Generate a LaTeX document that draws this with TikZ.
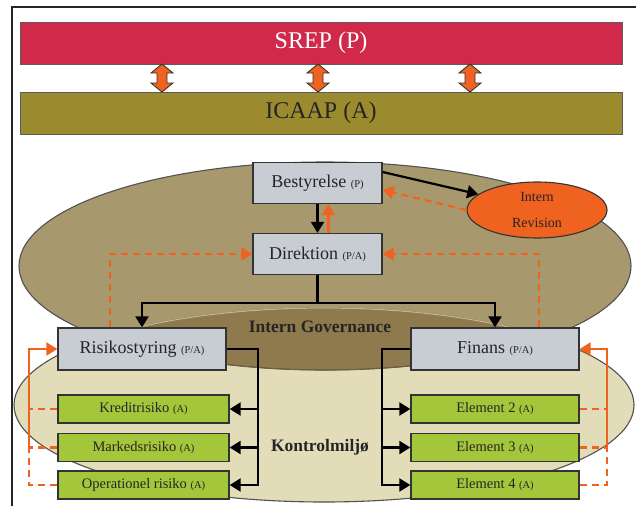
\documentclass[tikz,border=0pt]{standalone}
\usepackage{fontspec}
\setmainfont{Liberation Serif}
\usetikzlibrary{arrows.meta,shapes.geometric}
\definecolor{srepc}{HTML}{D0294A}
\definecolor{icaapc}{HTML}{9C8A2E}
\definecolor{upc}{HTML}{A8986E}
\definecolor{lowc}{HTML}{E2DCB8}
\definecolor{ovc}{HTML}{8E7A4C}
\definecolor{arcc}{HTML}{C4B68A}
\definecolor{grayc}{HTML}{C8CCD3}
\definecolor{greenc}{HTML}{A4C63A}
\definecolor{orc}{HTML}{F0621F}
\definecolor{linec}{HTML}{333333}
\definecolor{txtc}{HTML}{252525}
\newcommand\smtag[1]{{\fontsize{10.5}{12}\selectfont #1}}
\begin{document}
\begin{tikzpicture}[x=1pt,y=-1pt,
  bar/.style={draw=linec!80, line width=1pt, minimum width=602pt, minimum height=42pt, inner sep=0pt, font=\fontsize{24}{26}\selectfont},
  gbox/.style={draw=linec, line width=1.3pt, fill=grayc, inner sep=0pt, text=txtc, font=\fontsize{18}{20}\selectfont},
  grbox/.style={draw=linec, line width=1.3pt, fill=greenc, inner sep=0pt, text=txtc, minimum height=28pt, font=\fontsize{14.5}{16}\selectfont},
  blk/.style={draw=black, line width=2.2pt, -{Triangle[length=11pt,width=13pt]}},
  orl/.style={draw=orc, line width=2.2pt},
  ordash/.style={orl, dash pattern=on 7pt off 5pt},
  ortip/.style={-{Triangle[length=11pt,width=13pt,fill=orc]}},
  dbl/.style={draw=linec, line width=0.9pt, fill=orc},
  lbl/.style={font=\bfseries\fontsize{17.5}{20}\selectfont, text=txtc}
]
\useasboundingbox (0,0) rectangle (636,506);
\fill[white] (0,0) rectangle (636,506);
% frame
\draw[line width=1.2pt, black!85] (12,506) -- (12,7) -- (636,7);

% top bars
\node[bar, fill=srepc, text=white] (srep) at (321,43) {SREP (P)};
\node[bar, fill=icaapc, text=txtc] (icaap) at (321,113) {ICAAP (A)};
\foreach \ax in {162,318,470}{
  \draw[dbl] (\ax,64) -- (\ax+11,73) -- (\ax+5,73) -- (\ax+5,83) -- (\ax+11,83)
    -- (\ax,92) -- (\ax-11,83) -- (\ax-5,83) -- (\ax-5,73) -- (\ax-11,73) -- cycle;
}

% ellipses
\fill[upc] (325,266) ellipse [x radius=306, y radius=104];
\fill[lowc] (324,405) ellipse [x radius=310, y radius=97];
\begin{scope}
  \clip (325,266) ellipse [x radius=306, y radius=104];
  \fill[ovc] (324,405) ellipse [x radius=310, y radius=97];
\end{scope}
\draw[linec!85, line width=1.1pt] (325,266) ellipse [x radius=306, y radius=104];
\draw[linec!85, line width=1.1pt] (324,405) ellipse [x radius=310, y radius=97];
\begin{scope}
  \clip (325,266) ellipse [x radius=306, y radius=104];
  \draw[arcc, line width=1.2pt] (324,405) ellipse [x radius=310, y radius=97];
\end{scope}
\begin{scope}
  \clip (324,405) ellipse [x radius=310, y radius=97];
  \draw[ovc!80!black, line width=0.8pt] (325,266) ellipse [x radius=306, y radius=104];
\end{scope}

% labels
\node[lbl] (ig) at (320,327) {Intern Governance};
\node[lbl] (km) at (320,447) {Kontrolmiljø};

% nodes
\node[gbox, minimum width=129pt, minimum height=41pt] (best) at (317.5,183) {Bestyrelse \smtag{(P)}};
\node[gbox, minimum width=129pt, minimum height=41pt] (dir) at (317.5,254) {Direktion \smtag{(P/A)}};
\node[ellipse, draw=linec, line width=1.1pt, fill=orc, minimum width=140pt, minimum height=56pt, inner sep=0pt, align=center, text=txtc, font=\fontsize{14}{26}\selectfont] (rev) at (537,210) {Intern\\Revision};

\node[gbox, minimum width=168pt, minimum height=42pt] (risk) at (142,349) {Risikostyring \smtag{(P/A)}};
\node[gbox, minimum width=168pt, minimum height=42pt] (fin) at (495,349) {Finans \smtag{(P/A)}};

\node[grbox, minimum width=171pt] (kred) at (143.5,409) {Kreditrisiko \smtag{(A)}};
\node[grbox, minimum width=171pt] (mark) at (143.5,447.5) {Markedsrisiko \smtag{(A)}};
\node[grbox, minimum width=171pt] (oper) at (143.5,485) {Operationel risiko \smtag{(A)}};
\node[grbox, minimum width=168pt] (el2) at (495,409) {Element 2 \smtag{(A)}};
\node[grbox, minimum width=168pt] (el3) at (495,447.5) {Element 3 \smtag{(A)}};
\node[grbox, minimum width=168pt] (el4) at (495,485) {Element 4 \smtag{(A)}};

% black connectors
\draw[blk] (best.south) -- (dir.north);
\draw[blk] ([yshift=11pt]best.east) -- (rev.165);
\draw[blk] (dir.south) -- ++(0,28) -| (risk.north);
\draw[blk] (dir.south) -- ++(0,28) -| (fin.north);
\draw[blk] (risk.east) -- ++(31,0) |- (kred.east);
\draw[blk] (risk.east) -- ++(31,0) |- (mark.east);
\draw[blk] (risk.east) -- ++(31,0) |- (oper.east);
\draw[blk] (fin.west) -- ++(-28,0) |- (el2.west);
\draw[blk] (fin.west) -- ++(-28,0) |- (el3.west);
\draw[blk] (fin.west) -- ++(-28,0) |- (el4.west);

% orange connectors
\draw[orl, ortip] ([xshift=11pt]dir.north) -- ([xshift=11pt]best.south);
\draw[ordash, ortip] (rev.west) -- ([yshift=-7pt]best.east);
\draw[ordash, ortip] ([xshift=-32pt]risk.north) |- (dir.west);
\draw[ordash, ortip] ([xshift=44pt]fin.north) |- (dir.east);

\draw[ordash] (kred.west) -- ++(-28,0);
\draw[ordash] (mark.west) -- ++(-28,0);
\draw[ordash] (oper.west) -- ++(-28,0) -- ([xshift=-28pt]mark.west);
\draw[orl, ortip] ([xshift=-28pt]mark.west) |- (risk.west);

\draw[ordash] (el2.east) -- ++(27,0);
\draw[ordash] (el3.east) -- ++(27,0);
\draw[ordash] (el4.east) -- ++(27,0) -- ([xshift=27pt]el3.east);
\draw[orl, ortip] ([xshift=27pt]el3.east) |- (fin.east);
\end{tikzpicture}
\end{document}
